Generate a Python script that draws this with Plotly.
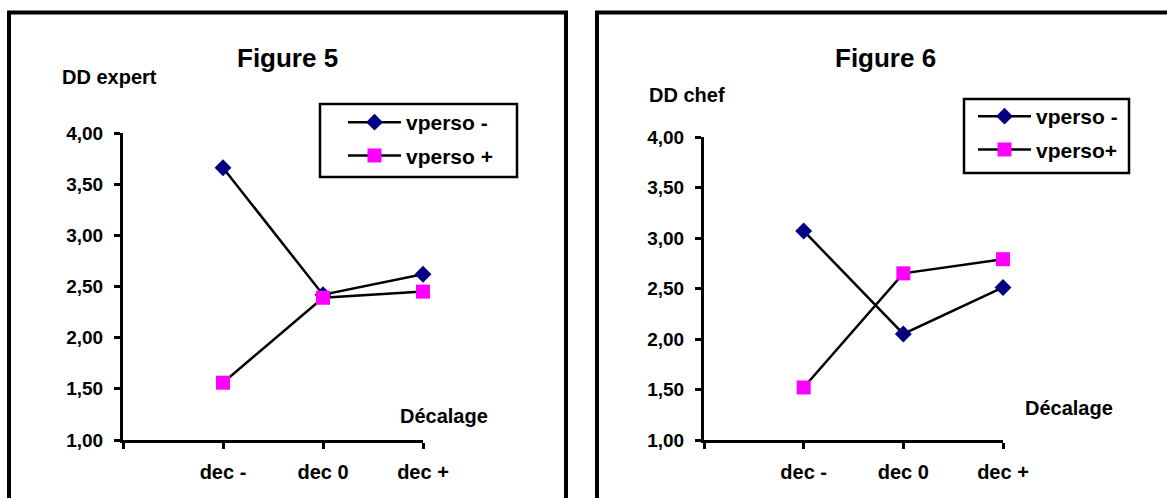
import plotly.graph_objects as go

# ---- data ----
categories = ["dec -", "dec 0", "dec +"]
cat_pos = [1, 2, 3]

fig5_title = "Figure 5"
fig5_ylabel = "DD expert"
fig5_series_names = ["vperso -", "vperso +"]
fig5_vperso_minus = [3.66, 2.42, 2.62]
fig5_vperso_plus = [1.56, 2.39, 2.45]

fig6_title = "Figure 6"
fig6_ylabel = "DD chef"
fig6_series_names = ["vperso -", "vperso+"]
fig6_vperso_minus = [3.07, 2.05, 2.51]
fig6_vperso_plus = [1.52, 2.65, 2.79]

xlabel = "Décalage"
y_ticks = [1.0, 1.5, 2.0, 2.5, 3.0, 3.5, 4.0]

W, H = 1167, 498
FONT = "Liberation Sans, Arial, sans-serif"
NAVY = "#000080"
MAGENTA = "#FF00FF"


def px(x):
    return x / W


def py(y):
    return 1 - y / H


fig = go.Figure()


def add_series(name, vals, xa, ya, legend, symbol, color, size, group):
    fig.add_trace(go.Scatter(
        x=cat_pos, y=vals, name=name, mode="lines+markers",
        xaxis=xa, yaxis=ya, legend=legend, legendgroup=group,
        line=dict(color="black", width=2.5),
        marker=dict(symbol=symbol, color=color, size=size,
                    line=dict(color=color, width=0)),
        cliponaxis=False,
        hoverinfo="skip",
    ))


add_series(fig5_series_names[0], fig5_vperso_minus, "x", "y", "legend", "diamond", NAVY, 13, "a")
add_series(fig5_series_names[1], fig5_vperso_plus, "x", "y", "legend", "square", MAGENTA, 14, "b")
add_series(fig6_series_names[0], fig6_vperso_minus, "x2", "y2", "legend2", "diamond", NAVY, 13, "c")
add_series(fig6_series_names[1], fig6_vperso_plus, "x2", "y2", "legend2", "square", MAGENTA, 14, "d")

axis_font = dict(family=FONT, size=20, color="black", weight="bold")
yaxis_font = dict(family=FONT, size=19, color="black", weight="bold")

xcommon = dict(range=[0, 3], tickvals=[0] + cat_pos, ticktext=[""] + categories,
               showline=True, linecolor="black", linewidth=3,
               ticks="outside", ticklen=6, tickwidth=2.5, tickcolor="black",
               showgrid=False, zeroline=False, tickfont=axis_font,
               ticklabelstandoff=6, fixedrange=True, automargin=False)
ycommon = dict(range=[1, 4], tickvals=y_ticks, tickformat=".2f",
               showline=True, linecolor="black", linewidth=3,
               ticks="outside", ticklen=6, tickwidth=2.5, tickcolor="black",
               showgrid=False, zeroline=False, tickfont=yaxis_font,
               ticklabelstandoff=7, fixedrange=True, automargin=False)

legend_common = dict(bgcolor="rgba(0,0,0,0)", borderwidth=0,
                     font=dict(family=FONT, size=21, color="black", weight="bold"),
                     itemwidth=53, traceorder="grouped", tracegroupgap=3,
                     xanchor="left", yanchor="top")

fig.update_layout(
    width=W, height=H,
    margin=dict(l=0, r=0, t=0, b=0, pad=0, autoexpand=False),
    paper_bgcolor="white", plot_bgcolor="white",
    separators=", ",
    showlegend=True,
    xaxis=dict(domain=[px(123), px(423)], anchor="y", **xcommon),
    yaxis=dict(domain=[py(440), py(133)], anchor="x", **ycommon),
    xaxis2=dict(domain=[px(704), px(1003)], anchor="y2", **xcommon),
    yaxis2=dict(domain=[py(440), py(137)], anchor="x2", **ycommon),
    legend=dict(x=px(343), y=py(102), **legend_common),
    legend2=dict(x=px(973), y=py(96), **legend_common),
)

# panel borders and legend boxes
shapes = [
    dict(type="rect", xref="paper", yref="paper", x0=px(9), x1=px(566), y0=py(12.5), y1=py(520),
         line=dict(color="black", width=4), fillcolor="rgba(0,0,0,0)", layer="below"),
    dict(type="rect", xref="paper", yref="paper", x0=px(597), x1=px(1190), y0=py(12.5), y1=py(520),
         line=dict(color="black", width=4), fillcolor="rgba(0,0,0,0)", layer="below"),
    dict(type="rect", xref="paper", yref="paper", x0=px(320), x1=px(517), y0=py(104), y1=py(177),
         line=dict(color="black", width=2.5), fillcolor="rgba(0,0,0,0)"),
    dict(type="rect", xref="paper", yref="paper", x0=px(964), x1=px(1129), y0=py(99), y1=py(173),
         line=dict(color="black", width=2.5), fillcolor="rgba(0,0,0,0)"),
]
fig.update_layout(shapes=shapes)

title_font = dict(family=FONT, size=26, color="black", weight="bold")
label_font = dict(family=FONT, size=20, color="black", weight="bold")


def ann(text, x, y, font, xanchor="left"):
    fig.add_annotation(text=text, x=px(x), y=py(y), xref="paper", yref="paper",
                       xanchor=xanchor, yanchor="middle", showarrow=False, font=font)


ann(fig5_title, 287, 58, title_font, "center")
ann(fig6_title, 885, 58, title_font, "center")
ann(fig5_ylabel, 60, 77, label_font)
ann(fig6_ylabel, 647, 95, label_font)
ann(xlabel, 398, 416, label_font)
ann(xlabel, 1023, 408, label_font)

# place the figure flush with the window's top-left corner (no body margin)
post = ("document.body.style.margin='0';"
        "document.body.style.overflow='hidden';"
        "var gd=document.getElementById('{plot_id}');"
        "gd.style.position='fixed';gd.style.left='0px';gd.style.top='0px';")

fig.write_html("out.html", post_script=post, config={"displayModeBar": False})
